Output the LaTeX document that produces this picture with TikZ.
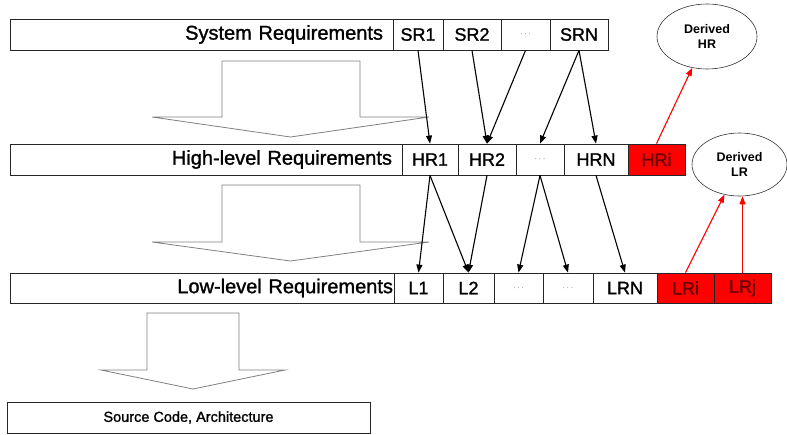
\documentclass[tikz,border=0pt]{standalone}
\usepackage{fontspec}
\setmainfont{Liberation Sans}
\newfontfamily\mediumsans{Liberation Sans}[FakeBold=1.3]
\usetikzlibrary{arrows.meta,calc,shapes.geometric}
\begin{document}
\begin{tikzpicture}[x=1pt,y=-1pt,
  rowbox/.style={draw=black!85,line width=0.8pt,inner xsep=10pt,inner ysep=0pt,
    minimum height=#1,align=right,anchor=center,font=\mediumsans\fontsize{20}{22}\selectfont},
  cell/.style={draw=black!85,line width=0.8pt,inner sep=0pt,minimum height=31pt,
    anchor=center,font=\mediumsans\fontsize{18}{20}\selectfont},
  redcell/.style={cell,fill=red,text=red!40!black},
  dotcell/.style={cell,font=\fontsize{9}{10}\selectfont,text=black!70},
  derived/.style={draw=black!80,line width=0.6pt,ellipse,inner sep=0pt,
    align=center,font=\bfseries\fontsize{12.5}{15}\selectfont},
  trace/.style={line width=1.1pt,-{Triangle[length=8pt,width=6pt]}},
  redtrace/.style={trace,draw=red,-{Triangle[length=8pt,width=6pt,fill=red]}},
  blockarrow/.style={draw=black!50,line width=0.8pt},
]
\useasboundingbox (0,0) rectangle (787,434);

% system level
\node[rowbox=31pt,text width=363pt] (sys) at (201.5,34.5) {System Requirements};
\node[cell,minimum width=50pt] (sr1) at (418,34.5) {SR1};
\node[cell,minimum width=58pt] (sr2) at (472,34.5) {SR2};
\node[dotcell,minimum width=49pt] (srd) at (525.5,34.5) {$\cdots$};
\node[cell,minimum width=58pt] (srn) at (579,34.5) {SRN};

% high level
\node[rowbox=31pt,text width=372pt] (hlr) at (206,159.5) {High-level Requirements};
\node[cell,minimum width=56pt] (hr1) at (430,159.5) {HR1};
\node[cell,minimum width=58pt] (hr2) at (487,159.5) {HR2};
\node[dotcell,minimum width=48pt] (hrd) at (540,159.5) {$\cdots$};
\node[cell,minimum width=64pt] (hrn) at (596,159.5) {HRN};
\node[redcell,minimum width=57pt] (hri) at (656.5,159.5) {HRi};

% low level
\node[rowbox=30pt,text width=382pt,inner xsep=1pt] (llr) at (202,288) {Low-level Requirements};
\node[cell,minimum height=30pt,minimum width=49pt] (l1) at (418.5,288) {L1};
\node[cell,minimum height=30pt,minimum width=51pt] (l2) at (468.5,288) {L2};
\node[dotcell,minimum height=30pt,minimum width=49pt] (ld1) at (518.5,288) {$\cdots$};
\node[dotcell,minimum height=30pt,minimum width=50pt] (ld2) at (568,288) {$\cdots$};
\node[cell,minimum height=30pt,minimum width=64pt] (lrn) at (625,288) {LRN};
\node[redcell,minimum height=30pt,minimum width=57pt] (lri) at (685.5,288) {LRi};
\node[redcell,minimum height=30pt,minimum width=57pt] (lrj) at (742.5,288) {LRj};

% code level
\node[draw=black!85,line width=0.8pt,minimum width=363pt,minimum height=31pt,inner sep=0pt,
  font=\mediumsans\fontsize{14.5}{17}\selectfont] (src) at (188.5,417.5) {Source Code, Architecture};

% derived requirements
\node[derived,minimum width=100pt,minimum height=65pt] (dhr) at (707,36.5) {Derived\\HR};
\node[derived,minimum width=95pt,minimum height=63pt] (dlr) at (739.5,164.5) {Derived\\LR};

% refinement block arrows
\draw[blockarrow] (222,117) -- (222,61) -- (360,61) -- (360,117) -- (429,117)
  -- (290.5,137) -- (152,117) -- cycle;
\draw[blockarrow] (222,242) -- (222,185) -- (360,185) -- (360,242) -- (429,242)
  -- (290.5,261) -- (152,242) -- cycle;
\draw[blockarrow] (147,370) -- (147,313) -- (239,313) -- (239,370) -- (285,370)
  -- (193,389) -- (101,370) -- cycle;

% traces system -> high level
\draw[trace] (sr1.south) -- (hr1.north);
\draw[trace] (sr2.south) -- (hr2.north);
\draw[trace] (srd.south) -- (hr2.north);
\draw[trace] (srn.south) -- (hrd.north);
\draw[trace] (srn.south) -- (hrn.north);

% traces high level -> low level
\draw[trace] (hr1.south) -- (l1.north);
\draw[trace] (hr1.south) -- (l2.north);
\draw[trace] (hr2.south) -- (l2.north);
\draw[trace] (hrd.south) -- (ld1.north);
\draw[trace] (hrd.south) -- (ld2.north);
\draw[trace] (hrn.south) -- (lrn.north);

% derived requirements links
\draw[redtrace] (hri.north) -- (dhr);
\draw[redtrace] (lri.north) -- (dlr);
\draw[redtrace] (lrj.north) -- (lrj.north |- dlr.south);
\end{tikzpicture}
\end{document}
